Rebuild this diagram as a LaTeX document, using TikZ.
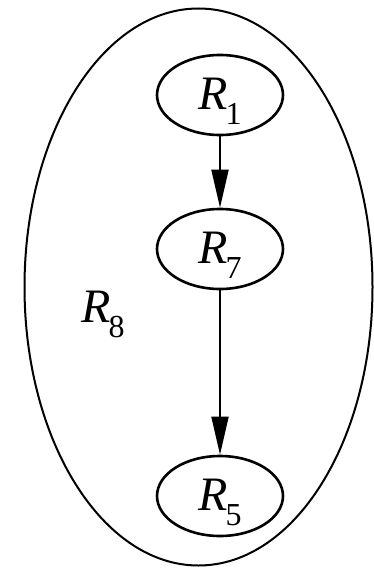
\documentclass[tikz,border=0pt]{standalone}
\usepackage{fontspec}
\setmainfont{Liberation Serif}
\usetikzlibrary{arrows.meta,shapes.geometric,calc}
\newcommand{\rlab}[1]{{\fontsize{48}{48}\selectfont\itshape R}\kern-2pt\raisebox{-15pt}{\fontsize{32}{32}\selectfont #1}}
\tikzset{
  region/.style={draw, line width=2.6pt, ellipse, minimum width=126pt, minimum height=80pt, inner sep=0pt},
  outer/.style={draw, line width=2pt, ellipse, minimum width=348pt, minimum height=557pt, inner sep=0pt},
  flow/.style={line width=1.8pt, -{Triangle[length=38pt,width=17pt]}},
  lab/.style={inner sep=0pt, anchor=center}
}
\begin{document}
\begin{tikzpicture}[x=1pt,y=-1pt]
\useasboundingbox (0,0) rectangle (374,570);
\node[outer] (r8box) at (198.5,287) {};
\node[lab] (r8) at (103,314) {\rlab{8}};
\node[region] (r1) at (220,95) {};
\node[region] (r7) at (220,249) {};
\node[region] (r5) at (220,496) {};
\node[lab] (t1) at ($(r1.center)+(0,6)$) {\rlab{1}};
\node[lab] (t7) at ($(r7.center)+(0,6)$) {\rlab{7}};
\node[lab] (t5) at ($(r5.center)+(0,6)$) {\rlab{5}};
\draw[flow] (r1) -- (r7);
\draw[flow] (r7) -- (r5);
\end{tikzpicture}
\end{document}
